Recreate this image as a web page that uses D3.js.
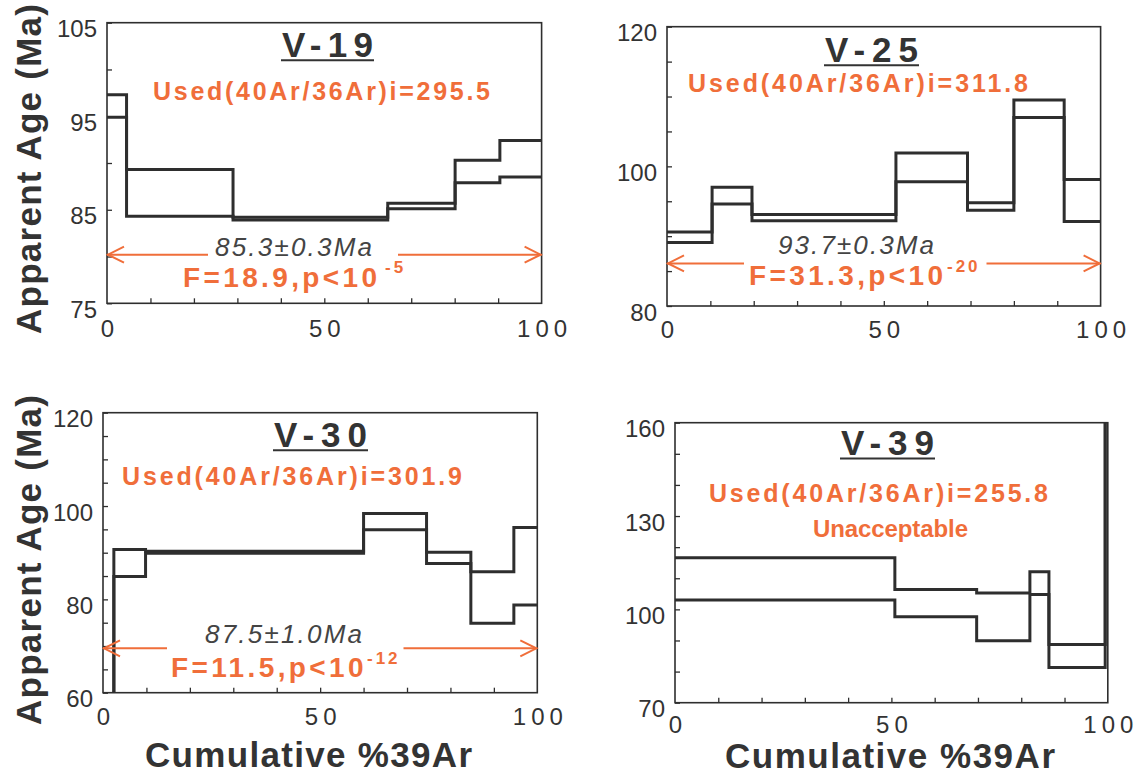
<!DOCTYPE html>
<html>
<head>
<meta charset="utf-8">
<script src="https://cdn.jsdelivr.net/npm/d3@7"></script>
<style>
  body { margin: 0; background: #fff; }
  svg { display: block; font-family: "Liberation Sans", Arial, sans-serif; }
</style>
</head>
<body>
<div id="container"></div>
<script>
const w = 1138;
const h = 777;
const ink = "#2e2e2e";
const orange = "#f06e3a";

// step spectra: cumulative %39Ar edges, upper / lower age envelope (Ma)
const v19Edges = [0, 4.5, 29.0, 64.6, 80.1, 90.4, 100];
const v19Upper = [97.3, 89.3, 84.2, 85.7, 90.3, 92.4];
const v19Lower = [94.9, 84.3, 83.9, 85.1, 87.9, 88.5];

const v25Edges = [0, 10.4, 19.6, 52.8, 69.3, 80.0, 91.6, 100];
const v25Upper = [90.6, 97.0, 93.1, 101.9, 94.8, 109.5, 98.1];
const v25Lower = [89.1, 94.6, 92.2, 97.8, 93.7, 107.0, 92.1];

const v30Edges = [0, 2.5, 9.8, 60.0, 74.5, 84.7, 94.6, 100];
const v30Upper = [52, 90.7, 90.3, 98.4, 90.1, 85.9, 95.4];
const v30Lower = [45, 84.9, 89.9, 94.9, 87.7, 74.9, 78.8];

const v39Edges = [0, 50.8, 69.7, 82.0, 86.4, 99.4, 100];
const v39Upper = [116.6, 106.4, 105.3, 112.1, 88.7, 200];
const v39Lower = [103.0, 97.6, 89.9, 104.8, 81.3, 180];

const yDomains = [[75, 105], [80, 120], [60, 120], [70, 160]];
const yTickLabels = [[75, 85, 95, 105], [80, 100, 120], [60, 80, 100, 120], [70, 100, 130, 160]];
const yMinorSteps = [5, 5, 5, 10];
const xTickLabels = [0, 50, 100];

const sampleNames = ["V-19", "V-25", "V-30", "V-39"];
const ratioLabels = ["Used(40Ar/36Ar)i=295.5", "Used(40Ar/36Ar)i=311.8", "Used(40Ar/36Ar)i=301.9", "Used(40Ar/36Ar)i=255.8"];
const plateauAges = ["85.3\u00b10.3Ma", "93.7\u00b10.3Ma", "87.5\u00b11.0Ma", null];
const plateauLevels = [80.2, 86.1, 69.5, null];
const fLabels = ["F=18.9,p<10", "F=31.3,p<10", "F=11.5,p<10", null];
const fExponents = ["-5", "-20", "-12", null];

const spectra = [
  [v19Edges, v19Upper, v19Lower],
  [v25Edges, v25Upper, v25Lower],
  [v30Edges, v30Upper, v30Lower],
  [v39Edges, v39Upper, v39Lower]
];

// page positions: box [x0,y0,x1,y1]; text spans [xStart, xEnd, baseline]
const layout = [
  { box: [107, 22.7, 541.6, 303.3], title: [282, 373, 56.7], ratio: [153, 490, 100],
    age: [215, 372, 256], f: [183, 377, 287], sup: [385, 273], gap: [208, 398], xLabY: 337 },
  { box: [667, 26.7, 1100.6, 306], title: [825, 918, 61.7], ratio: [688, 1028, 91.7],
    age: [778, 934, 254], f: [749, 943, 285], sup: [947, 272], gap: [744, 986.5], xLabY: 338 },
  { box: [103, 412.7, 537.3, 692.7], title: [274, 367, 446.7], ratio: [122, 462, 485],
    age: [205, 362, 643.3], f: [171, 363.5, 676.7], sup: [367, 664], gap: [167, 403.5], xLabY: 725,
    xTitle: [145, 472, 767] },
  { box: [675, 422.7, 1107.8, 702.7], title: [841, 934, 455], ratio: [709, 1048, 501.7],
    note: [813, 968, 536.7], xLabY: 733, xTitle: [725, 1055, 768] }
];

const svg = d3.select("#container")
  .append("svg")
  .attr("width", w)
  .attr("height", h)
  .style("background-color", "#fff");

function spanText(g, str, span, size, opts) {
  const o = opts || {};
  return g.append("text")
    .text(str)
    .attr("x", span[0])
    .attr("y", span[2])
    .attr("textLength", span[1] - span[0])
    .attr("lengthAdjust", "spacing")
    .attr("font-size", size)
    .attr("font-weight", o.weight || "bold")
    .attr("font-style", o.style || "normal")
    .attr("fill", o.fill || orange);
}

spectra.forEach(([edges, upper, lower], i) => {
  const L = layout[i];
  const [x0, y0, x1, y1] = L.box;
  const g = svg.append("g");

  const xScale = d3.scaleLinear().domain([0, 100]).range([x0, x1]);
  const yScale = d3.scaleLinear().domain(yDomains[i]).range([y1, y0]);

  g.append("clipPath")
    .attr("id", `clip-${i}`)
    .append("rect")
    .attr("x", x0)
    .attr("y", y0)
    .attr("width", x1 - x0)
    .attr("height", y1 - y0);

  // minor ticks pointing inward
  const yMinor = d3.range(yDomains[i][0], yDomains[i][1] + 0.01, yMinorSteps[i]);
  g.append("g")
    .attr("transform", `translate(${x0},0)`)
    .call(d3.axisLeft(yScale).tickValues(yMinor).tickSize(-5).tickFormat(""))
    .call(a => a.select(".domain").remove())
    .call(a => a.selectAll("line").attr("stroke", ink).attr("stroke-width", 1.3));
  g.append("g")
    .attr("transform", `translate(0,${y1})`)
    .call(d3.axisBottom(xScale).tickValues(d3.range(10, 100, 10)).tickSize(-5).tickFormat(""))
    .call(a => a.select(".domain").remove())
    .call(a => a.selectAll("line").attr("stroke", ink).attr("stroke-width", 1.3));

  // tick labels
  g.append("g")
    .attr("transform", `translate(${x0},0)`)
    .call(d3.axisLeft(yScale).tickValues(yTickLabels[i]).tickSize(0).tickPadding(10))
    .call(a => a.select(".domain").remove())
    .call(a => a.selectAll("text")
      .attr("font-family", "Liberation Sans, Arial, sans-serif")
      .attr("font-size", 24)
      .attr("fill", "#333")
      .attr("dy", 14)
      .attr("dominant-baseline", "auto"));
  g.append("g")
    .attr("transform", `translate(0,${L.xLabY})`)
    .call(d3.axisBottom(xScale).tickValues(xTickLabels).tickSize(0).tickPadding(0))
    .call(a => a.select(".domain").remove())
    .call(a => a.selectAll("text")
      .attr("font-family", "Liberation Sans, Arial, sans-serif")
      .attr("font-size", 24)
      .attr("letter-spacing", "5px")
      .attr("dx", 2.5)
      .attr("y", 0)
      .attr("dy", 0)
      .attr("fill", "#333"));

  // step envelopes
  const step = d3.line()
    .x(d => xScale(d[0]))
    .y(d => yScale(d[1]))
    .curve(d3.curveStepAfter);
  [upper, lower].forEach(vals => {
    const pts = vals.map((v, k) => [edges[k], v]);
    pts.push([edges[edges.length - 1], vals[vals.length - 1]]);
    g.append("path")
      .attr("d", step(pts))
      .attr("clip-path", `url(#clip-${i})`)
      .attr("fill", "none")
      .attr("stroke", ink)
      .attr("stroke-width", 3);
  });

  g.append("rect")
    .attr("x", x0)
    .attr("y", y0)
    .attr("width", x1 - x0)
    .attr("height", y1 - y0)
    .attr("fill", "none")
    .attr("stroke", ink)
    .attr("stroke-width", 1.6);

  // title
  spanText(g, sampleNames[i], L.title, 35, { fill: "#333" });
  g.append("line")
    .attr("x1", L.title[0] - 1)
    .attr("x2", L.title[1] + 1)
    .attr("y1", L.title[2] + 3.5)
    .attr("y2", L.title[2] + 3.5)
    .attr("stroke", "#333")
    .attr("stroke-width", 2);

  spanText(g, ratioLabels[i], L.ratio, 25);

  if (L.note) spanText(g, "Unacceptable", L.note, 24);

  if (plateauLevels[i] !== null) {
    const ay = yScale(plateauLevels[i]);
    const ax0 = xScale(0);
    const ax1 = xScale(100);
    const arrow = g.append("g")
      .attr("fill", "none")
      .attr("stroke", orange)
      .attr("stroke-width", 2);
    arrow.append("path").attr("d", `M${ax0},${ay}H${L.gap[0]}M${L.gap[1]},${ay}H${ax1}`);
    arrow.append("path").attr("d", `M${ax0 + 17},${ay - 8}L${ax0 + 1},${ay}L${ax0 + 17},${ay + 8}`);
    arrow.append("path").attr("d", `M${ax1 - 17},${ay - 8}L${ax1 - 1},${ay}L${ax1 - 17},${ay + 8}`);

    spanText(g, plateauAges[i], L.age, 26, { weight: "normal", style: "italic", fill: "#444" });
    spanText(g, fLabels[i], L.f, 28);
    g.append("text")
      .text(fExponents[i])
      .attr("x", L.sup[0])
      .attr("y", L.sup[1])
      .attr("font-size", 17)
      .attr("font-weight", "bold")
      .attr("letter-spacing", "3px")
      .attr("fill", orange);
  }

  if (L.xTitle) spanText(g, "Cumulative %39Ar", L.xTitle, 35, { fill: "#333" });
});

// shared y titles
[169, 560].forEach(cy => {
  svg.append("text")
    .text("Apparent Age (Ma)")
    .attr("transform", `translate(41,${cy}) rotate(-90)`)
    .attr("text-anchor", "middle")
    .attr("textLength", 330)
    .attr("lengthAdjust", "spacing")
    .attr("font-size", 35)
    .attr("font-weight", "bold")
    .attr("fill", "#333");
});
</script>
</body>
</html>
